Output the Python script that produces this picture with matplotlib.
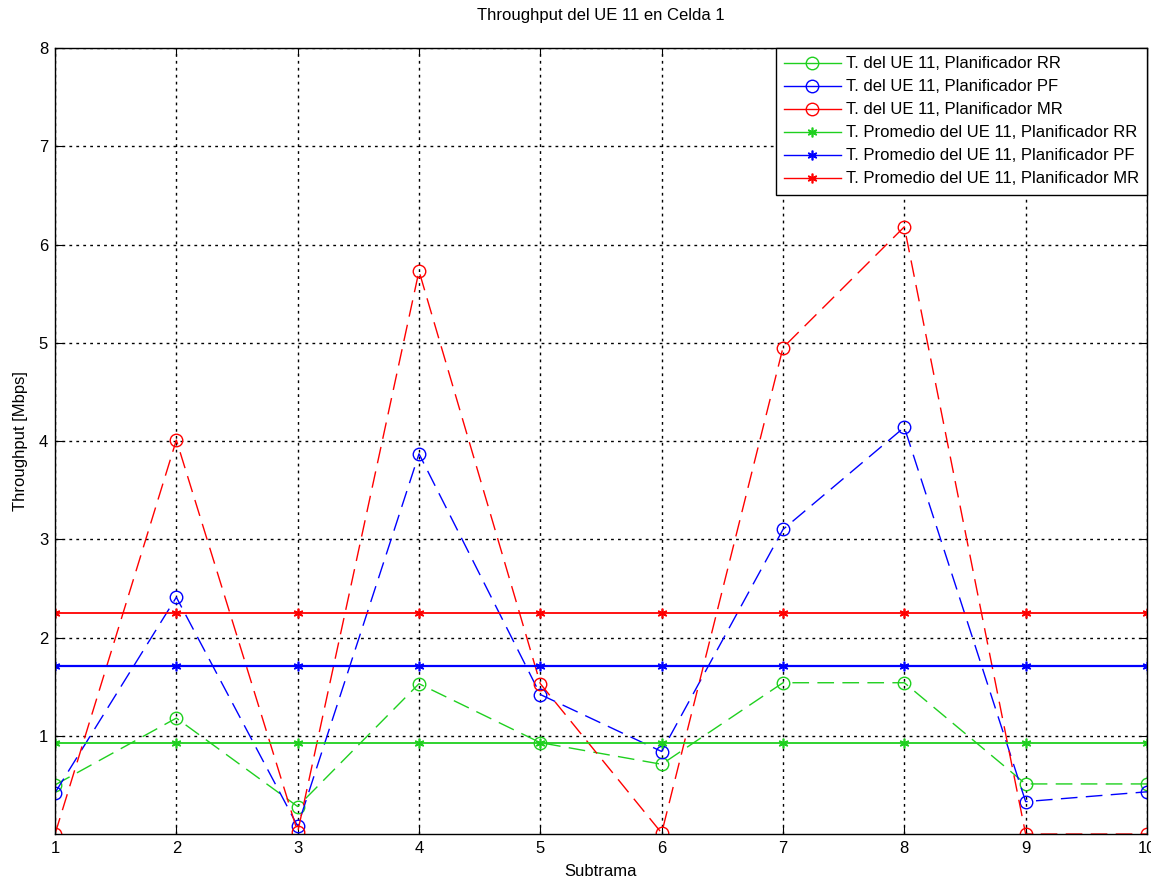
import matplotlib
matplotlib.use("Agg")
import matplotlib.pyplot as plt
from matplotlib.lines import Line2D

plt.rcParams['font.family'] = ['Liberation Sans', 'DejaVu Sans']

subtrama = [1, 2, 3, 4, 5, 6, 7, 8, 9, 10]
rr = [0.50, 1.18, 0.28, 1.53, 0.93, 0.71, 1.54, 1.54, 0.51, 0.51]
pf = [0.42, 2.41, 0.08, 3.87, 1.42, 0.84, 3.10, 4.14, 0.33, 0.43]
mr = [0.00, 4.01, 0.02, 5.73, 1.53, 0.01, 4.95, 6.18, 0.00, 0.00]
rr_avg = [0.93] * 10
pf_avg = [1.71] * 10
mr_avg = [2.25] * 10

labels = ['T. del UE 11, Planificador RR',
          'T. del UE 11, Planificador PF',
          'T. del UE 11, Planificador MR',
          'T. Promedio del UE 11, Planificador RR',
          'T. Promedio del UE 11, Planificador PF',
          'T. Promedio del UE 11, Planificador MR']

G, B, R = '#1fd01f', '#0000ff', '#ff0000'
AST = (6, 2, 0)

fig = plt.figure(figsize=(11.51, 8.81), dpi=100)
ax = fig.add_axes([0.0478, 0.0533, 0.9487, 0.8922])

dash = (0, (12, 6))
ax.plot(subtrama, rr, color=G, linestyle=dash, lw=1, marker='o', ms=9, mfc='none', mew=1)
ax.plot(subtrama, pf, color=B, linestyle=dash, lw=1, marker='o', ms=9, mfc='none', mew=1)
ax.plot(subtrama, mr, color=R, linestyle=dash, lw=1, marker='o', ms=9, mfc='none', mew=1)
ax.plot(subtrama, rr_avg, color=G, lw=1.3, marker=AST, ms=7, mew=1.2)
ax.plot(subtrama, pf_avg, color=B, lw=1.6, marker=AST, ms=7, mew=1.2)
ax.plot(subtrama, mr_avg, color=R, lw=1.3, marker=AST, ms=7, mew=1.2)

ax.set_xlim(1, 10)
ax.set_ylim(0, 8)
ax.set_xticks(subtrama)
ax.set_yticks([1, 2, 3, 4, 5, 6, 7, 8])
ax.tick_params(direction='in', labelsize=12, length=6, top=True, right=True, pad=5)
ax.grid(True, color='black', linestyle=(0, (2, 3)), linewidth=1)
for s in ax.spines.values():
    s.set_linewidth(1)

ax.set_title('Throughput del UE 11 en Celda 1', fontsize=12, pad=20)
ax.set_xlabel('Subtrama', fontsize=12, labelpad=6)
ax.set_ylabel('Throughput [Mbps]', fontsize=12, labelpad=8)

handles = [
    Line2D([], [], color=G, lw=1, marker='o', ms=9, mfc='none'),
    Line2D([], [], color=B, lw=1, marker='o', ms=9, mfc='none'),
    Line2D([], [], color=R, lw=1, marker='o', ms=9, mfc='none'),
    Line2D([], [], color=G, lw=1, marker=AST, ms=7, mew=1.2),
    Line2D([], [], color=B, lw=1, marker=AST, ms=7, mew=1.2),
    Line2D([], [], color=R, lw=1, marker=AST, ms=7, mew=1.2),
]
leg = ax.legend(handles, labels, loc='upper right', fontsize=12, fancybox=False,
                framealpha=1, edgecolor='black', borderaxespad=0.0,
                handlelength=3.4, handletextpad=0.3, labelspacing=0.48,
                borderpad=0.5)
leg.get_frame().set_linewidth(1)

fig.savefig('out.png', dpi=100)
